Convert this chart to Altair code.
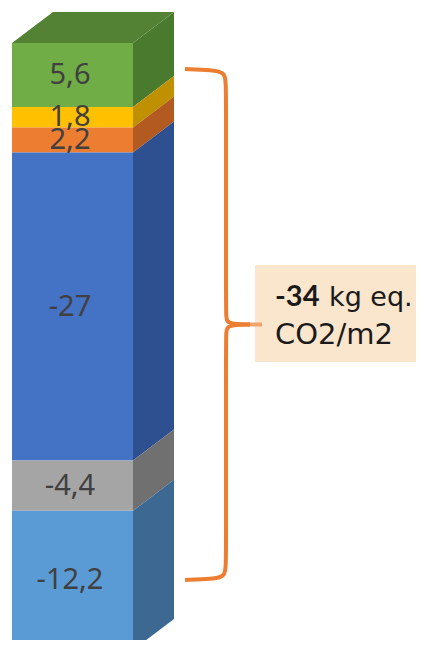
import altair as alt
import pandas as pd

# ---- data ----
segments = ["S1", "S2", "S3", "S4", "S5", "S6"]
values = [5.6, 1.8, 2.2, -27, -4.4, -12.2]
labels = ["5,6", "1,8", "2,2", "-27", "-4,4", "-12,2"]
front_colors = ["#70AD47", "#FFC000", "#ED7D31", "#4472C4", "#A5A5A5", "#5B9BD5"]
side_colors = ["#4A7A2E", "#BF9000", "#B35A20", "#2F5090", "#707070", "#3C6892"]
top_color = "#548235"
total_bold = "-34"
total_rest = "kg eq."
total_line2 = "CO2/m2"

# ---- layout (x in px units, y in data units) ----
W, H = 408, 632
PX = 11.41              # pixels per data unit
Y_TOP = 35 / PX
Y_BOT = -(H - 35) / PX
BAR_X0, BAR_X1 = 4, 125
DX = 41
DY = 31 / PX


def u(px_from_top):
    """pixel offset below the stack top -> data unit"""
    return -px_from_top / PX


xs = alt.Scale(domain=[0, W], nice=False, zero=False)
ys = alt.Scale(domain=[Y_BOT, Y_TOP], nice=False, zero=False)
X = lambda f: alt.X(f, type="quantitative", scale=xs, axis=None)
Y = lambda f: alt.Y(f, type="quantitative", scale=ys, axis=None)

front, side = [], []
cum = 0.0
for s, v, lab, fc, sc in zip(segments, values, labels, front_colors, side_colors):
    top = -cum
    cum += abs(v)
    bot = -cum
    front.append(dict(seg=s, x0=BAR_X0, x1=BAR_X1, ytop=top, ybot=bot,
                      mid=(top + bot) / 2, label=lab, color=fc))
    side.append(dict(seg=s, x=BAR_X1, y=bot, y2=top, color=sc))
    side.append(dict(seg=s, x=BAR_X1 + DX, y=bot + DY, y2=top + DY, color=sc))
front_df = pd.DataFrame(front)
side_df = pd.DataFrame(side)
top_df = pd.DataFrame([
    dict(x=BAR_X0, y=0, y2=0),
    dict(x=BAR_X0 + DX, y=0, y2=DY),
    dict(x=BAR_X1, y=0, y2=DY),
    dict(x=BAR_X1 + DX, y=DY, y2=DY),
])

front_layer = alt.Chart(front_df).mark_rect(clip=True).encode(
    x=X("x0"), x2="x1", y=Y("ytop"), y2="ybot",
    color=alt.Color("color:N", scale=None))
side_layer = alt.Chart(side_df).mark_area(orient="vertical").encode(
    x=X("x"), y=Y("y"), y2=alt.Y2("y2"), detail="seg:N",
    color=alt.Color("color:N", scale=None))
top_layer = alt.Chart(top_df).mark_area(color=top_color, orient="vertical").encode(
    x=X("x"), y=Y("y"), y2=alt.Y2("y2"))
text_layer = alt.Chart(front_df).mark_text(
    font="Noto Sans", fontSize=29, color="#404040", baseline="middle"
).encode(x=alt.X("xt:Q", scale=xs, axis=None), y=Y("mid"), text="label:N").transform_calculate(xt="62")

# ---- brace annotation ----
b_top = u(69 - 43)
b_bot = u(580 - 43)
b_mid = (b_top + b_bot) / 2
XS, XV, XT = 177, 218, 242
pts_top = [(XS, b_top), (XS + 27, b_top - 1 / PX), (XV, b_top - 3 / PX),
           (XV, b_top - 20 / PX), (XV, b_mid + 24 / PX), (XV, b_mid + 6 / PX),
           (XV + 2, b_mid + 0.5 / PX), (XT, b_mid)]
brace_rows = []
for i, (x, y) in enumerate(pts_top):
    brace_rows.append(dict(part="a", o=i, x=x, y=y))
for i, (x, y) in enumerate(pts_top):
    brace_rows.append(dict(part="b", o=i, x=x, y=2 * b_mid - y))
brace_df = pd.DataFrame(brace_rows)
brace = alt.Chart(brace_df).mark_line(
    color="#ED7D31", strokeWidth=4, interpolate="basis", strokeCap="butt"
).encode(x=X("x"), y=Y("y"), detail="part:N", order="o:Q")

box_df = pd.DataFrame([dict(x=247, x2=W, y=u(265 - 43), y2=u(362 - 43))])
box = alt.Chart(box_df).mark_rect(color="#FAE5CD", clip=True).encode(
    x=X("x"), x2="x2", y=Y("y"), y2="y2")
tip_df = pd.DataFrame([dict(x=XT, x2=254, y=b_mid)])
tip = alt.Chart(tip_df).mark_rule(color="#F2A46C", strokeWidth=4).encode(
    x=X("x"), x2="x2", y=Y("y"))

ann_df = pd.DataFrame([
    dict(x=267, y=u(306 - 43), t=total_bold, s=29),
    dict(x=321, y=u(306 - 43), t=total_rest, s=27),
    dict(x=267, y=u(344 - 43), t=total_line2, s=29),
])
ann_bold = alt.Chart(ann_df.iloc[[0]]).mark_text(
    font="Lato", fontSize=29, fontWeight="bold", color="#1a1a1a",
    align="left", baseline="alphabetic").encode(x=X("x"), y=Y("y"), text="t:N")
ann_rest = alt.Chart(ann_df.iloc[[1]]).mark_text(
    font="DejaVu Sans", fontSize=27, color="#1a1a1a",
    align="left", baseline="alphabetic").encode(x=X("x"), y=Y("y"), text="t:N")
ann_line2 = alt.Chart(ann_df.iloc[[2]]).mark_text(
    font="DejaVu Sans", fontSize=29, color="#1a1a1a",
    align="left", baseline="alphabetic").encode(x=X("x"), y=Y("y"), text="t:N")

chart = alt.layer(
    front_layer, side_layer, top_layer, text_layer, brace, box, tip,
    ann_bold, ann_rest, ann_line2
).properties(
    width=W, height=H, padding=0, autosize=alt.AutoSizeParams(type="none")
).configure_view(stroke=None)

chart.save("out.html", embed_options={"renderer": "svg", "actions": False})
